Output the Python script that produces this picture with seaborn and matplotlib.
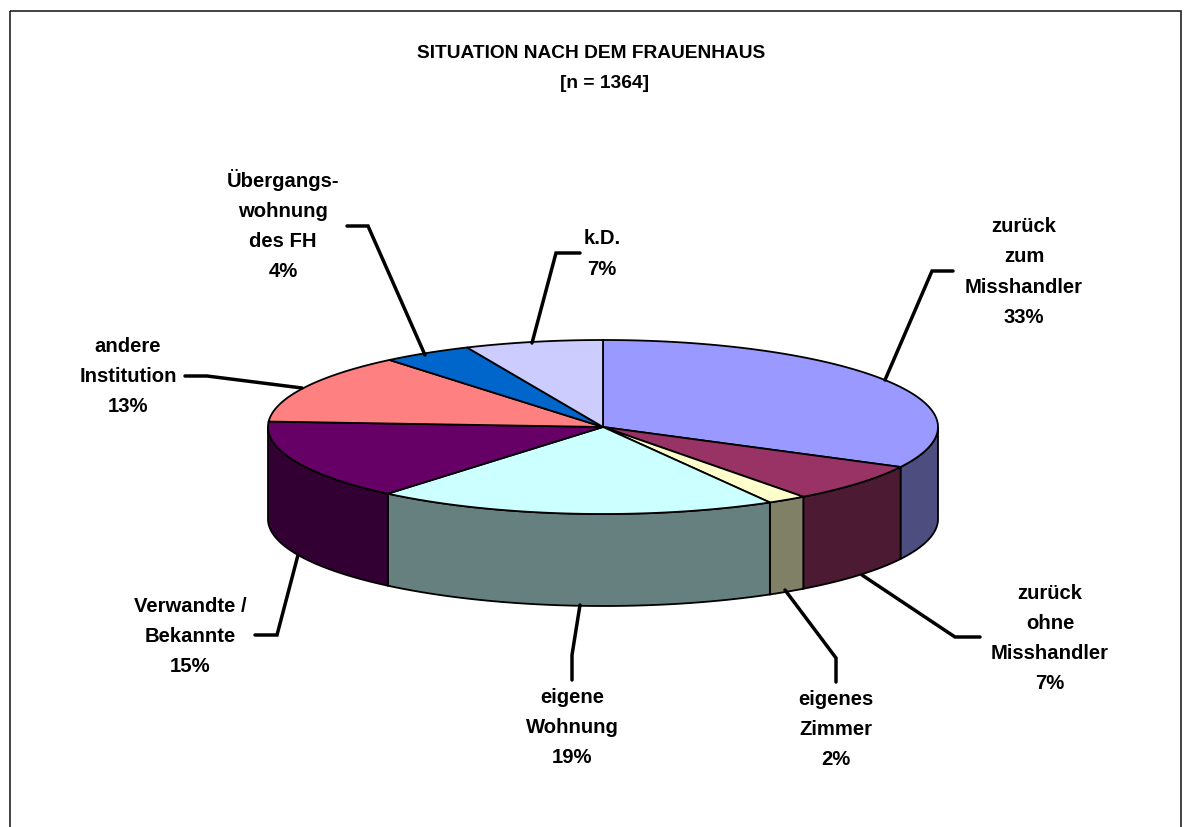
import numpy as np
import seaborn as sns
import matplotlib.pyplot as plt
from matplotlib.patches import Rectangle

# Data (unrounded shares estimated from the slice boundaries)
categories = ['zurück\nzum\nMisshandler', 'zurück\nohne\nMisshandler', 'eigenes\nZimmer', 'eigene\nWohnung',
              'Verwandte /\nBekannte', 'andere\nInstitution', 'Übergangs-\nwohnung\ndes FH', 'k.D.']
values = [32.6, 7.2, 1.9, 19.4, 14.9, 13.0, 4.35, 6.65]
top_colors = ['#9999FF', '#993366', '#FFFFCC', '#CCFFFF', '#660066', '#FF8080', '#0066CC', '#CCCCFF']
side_colors = ['#4D4D80', '#4D1A33', '#808066', '#668080', '#330033', '#804040', '#003366', '#666680']
title_lines = ['SITUATION NACH DEM FRAUENHAUS', '[n = 1364]']

sns.set_theme(style='white')
plt.rcParams['font.family'] = ['Liberation Sans', 'DejaVu Sans']

fig = plt.figure(figsize=(11.9, 8.27), dpi=100)
ax = fig.add_axes([0, 0, 1, 1])
ax.set_xlim(0, 1190)
ax.set_ylim(827, 0)
ax.axis('off')

# Pie geometry in pixels
cx, cy = 603, 427
rx, ry = 335, 87
depth = 92


def arc(t0, t1, dy=0):
    t = np.radians(np.linspace(t0, t1, 120))
    return cx + rx * np.sin(t), cy + dy - ry * np.cos(t)


ax.add_patch(Rectangle((10, 10.5), 1171, 830, fill=False, edgecolor='#222222', lw=1.2))

edges = np.cumsum([0] + values) / sum(values) * 360

# Side walls, only the front half is visible
for i in range(len(values)):
    t0, t1 = max(edges[i], 90), min(edges[i + 1], 270)
    if t0 >= t1:
        continue
    x0, y0 = arc(t0, t1)
    x1, y1 = arc(t1, t0, depth)
    ax.fill(np.r_[x0, x1], np.r_[y0, y1], facecolor=side_colors[i], edgecolor='black', lw=1.3)

# Top slices
for i in range(len(values)):
    x0, y0 = arc(edges[i], edges[i + 1])
    ax.fill(np.r_[cx, x0], np.r_[cy, y0], facecolor=top_colors[i], edgecolor='black', lw=1.3)

# Leader lines
leaders = [
    ([885, 932, 953], [380, 271, 271]),
    ([862, 955, 980], [575, 637, 637]),
    ([785, 836, 836], [590, 658, 682]),
    ([580, 572, 572], [605, 655, 680]),
    ([298, 277, 255], [555, 635, 635]),
    ([302, 207, 185], [388, 376, 376]),
    ([425, 368, 347], [355, 226, 226]),
    ([532, 556, 580], [343, 253, 253]),
]
for lx, ly in leaders:
    ax.plot(lx, ly, color='black', lw=2.5, solid_joinstyle='miter')

# Labels
label_pos = [(1024, 272), (1050, 638.5), (836, 729.5), (572, 727.5), (190, 636.5), (128, 376.5), (283, 225), (602, 254)]
for name, v, (x, y) in zip(categories, values, label_pos):
    ax.text(x, y, f'{name}\n{v:.0f}%', ha='center', va='center', fontsize=14.6, fontweight='bold',
            color='black', linespacing=1.74)

ax.text(591, 54, title_lines[0], ha='center', va='center', fontsize=13.8, fontweight='bold', color='black')
ax.text(605, 84, title_lines[1], ha='center', va='center', fontsize=13.8, fontweight='bold', color='black')

plt.savefig('out.png', dpi=100)
